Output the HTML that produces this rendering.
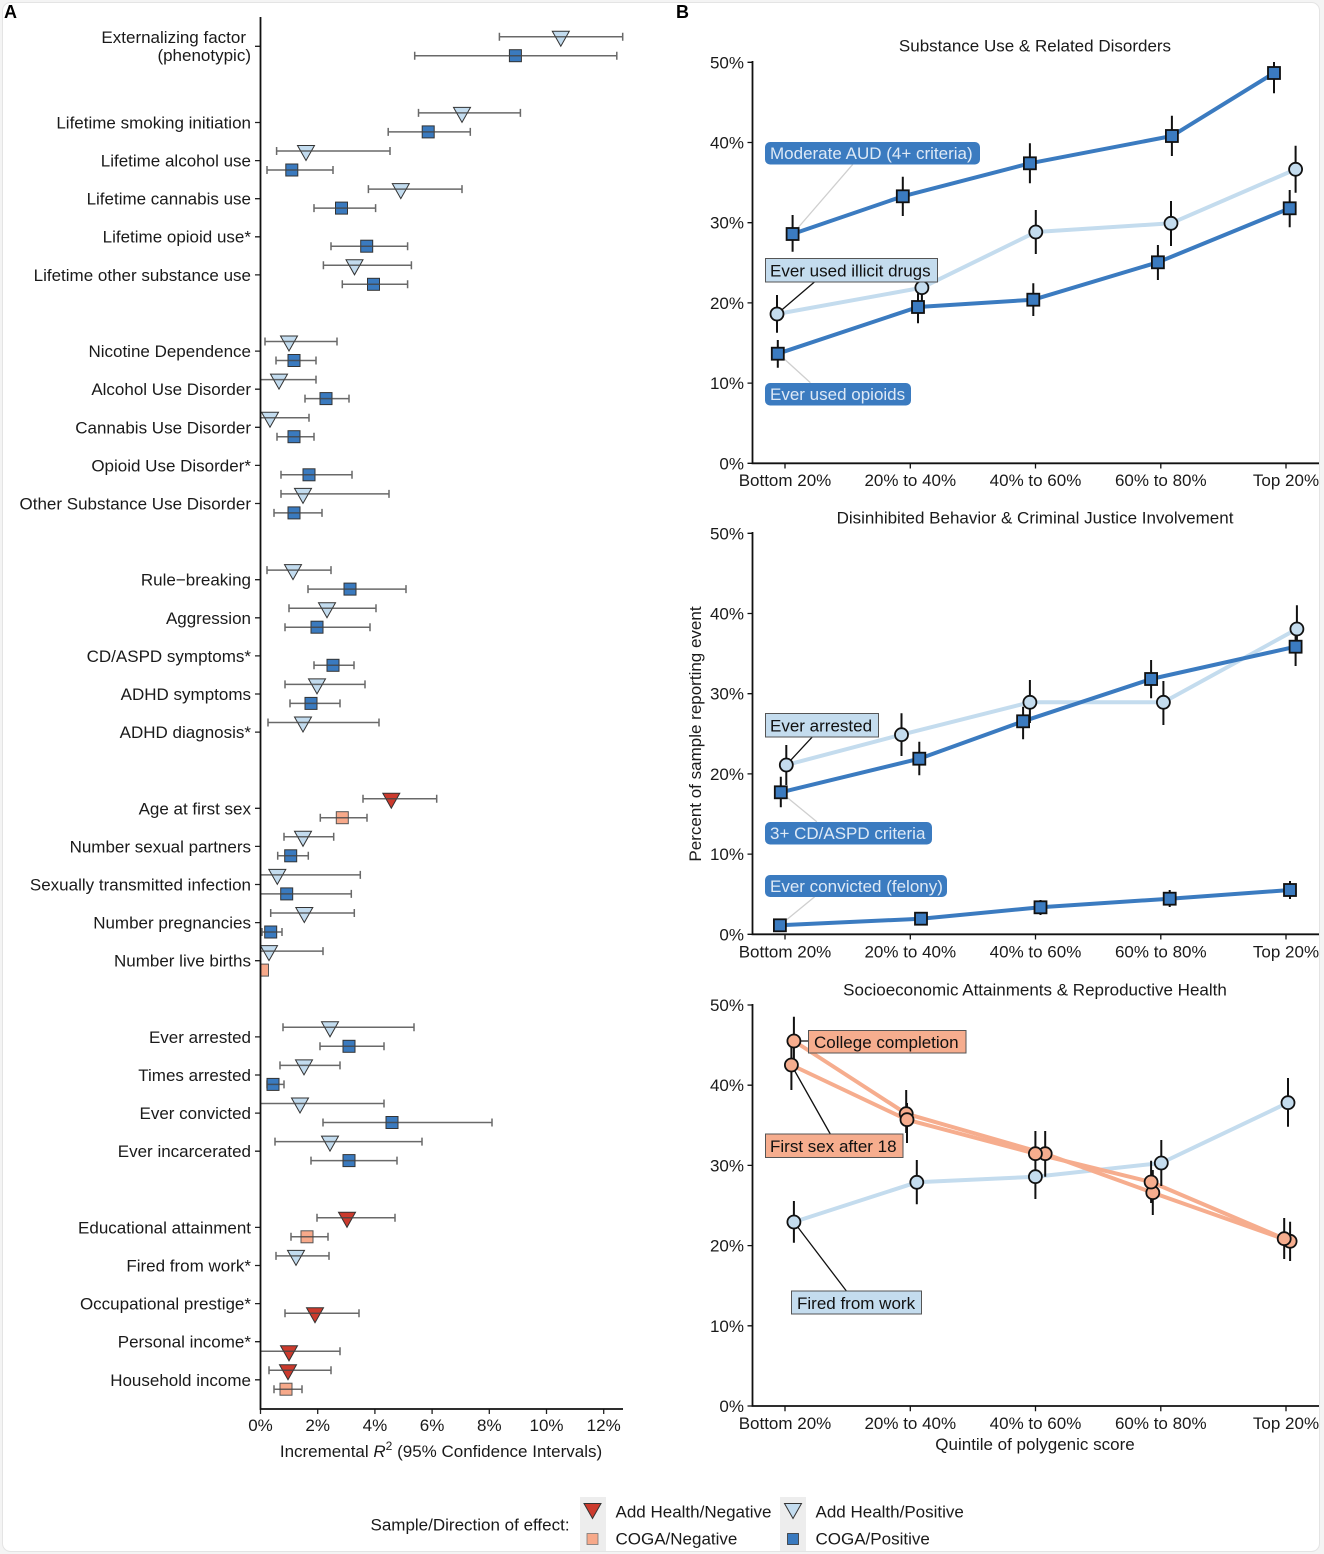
<!DOCTYPE html>
<html><head><meta charset="utf-8"><style>
html,body{margin:0;padding:0;background:#f4f4f4;}
svg{display:block;font-family:"Liberation Sans",Arial,sans-serif;}
</style></head><body>
<svg width="1324" height="1554" viewBox="0 0 1324 1554" xmlns="http://www.w3.org/2000/svg">
<defs>
<path id="tL" d="M-8.5,-5.5H8.5L0,9.5Z" fill="#c3dcef" stroke="#333" stroke-width="1"/>
<path id="tR" d="M-8.5,-5.5H8.5L0,9.5Z" fill="#cc3a2d" stroke="#333" stroke-width="1"/>
<rect id="sD" x="-6" y="-6" width="12" height="12" fill="#3a7abf" stroke="#333" stroke-width="1"/>
<rect id="sS" x="-6" y="-6" width="12" height="12" fill="#f7a98a" stroke="#555" stroke-width="1"/>
<rect id="bS" x="-6" y="-6" width="12" height="12" fill="#3b7bc0" stroke="#111" stroke-width="1.8"/>
<circle id="bCL" r="6.5" fill="#c4dcee" stroke="#111" stroke-width="1.8"/>
<circle id="bCS" r="6.5" fill="#f6ad8e" stroke="#111" stroke-width="1.8"/>
<clipPath id="clipA"><rect x="260.5" y="10" width="370" height="1399"/></clipPath>
</defs>
<rect x="2.5" y="2.5" width="1317" height="1549" rx="8" fill="#fff" stroke="#e4e4e4" stroke-width="1"/>

<text x="4" y="18" font-size="18" font-weight="bold" fill="#000">A</text>
<text x="676" y="18" font-size="18" font-weight="bold" fill="#000">B</text>

<!-- ================= PANEL A ================= -->
<g font-size="17" fill="#1a1a1a" text-anchor="end">
<text x="246" y="43">Externalizing factor</text>
<text x="251" y="61">(phenotypic)</text>
<text x="251" y="128.5">Lifetime smoking initiation</text>
<text x="251" y="166.5">Lifetime alcohol use</text>
<text x="251" y="204.5">Lifetime cannabis use</text>
<text x="251" y="242.5">Lifetime opioid use*</text>
<text x="251" y="281">Lifetime other substance use</text>
<text x="251" y="357">Nicotine Dependence</text>
<text x="251" y="395">Alcohol Use Disorder</text>
<text x="251" y="433.5">Cannabis Use Disorder</text>
<text x="251" y="471.5">Opioid Use Disorder*</text>
<text x="251" y="509.5">Other Substance Use Disorder</text>
<text x="251" y="585.5">Rule−breaking</text>
<text x="251" y="624">Aggression</text>
<text x="251" y="662">CD/ASPD symptoms*</text>
<text x="251" y="700">ADHD symptoms</text>
<text x="251" y="738">ADHD diagnosis*</text>
<text x="251" y="814.5">Age at first sex</text>
<text x="251" y="852.5">Number sexual partners</text>
<text x="251" y="890.5">Sexually transmitted infection</text>
<text x="251" y="928.5">Number pregnancies</text>
<text x="251" y="966.5">Number live births</text>
<text x="251" y="1043">Ever arrested</text>
<text x="251" y="1081">Times arrested</text>
<text x="251" y="1119">Ever convicted</text>
<text x="251" y="1157">Ever incarcerated</text>
<text x="251" y="1233.5">Educational attainment</text>
<text x="251" y="1271.5">Fired from work*</text>
<text x="251" y="1309.5">Occupational prestige*</text>
<text x="251" y="1347.5">Personal income*</text>
<text x="251" y="1386">Household income</text>
</g>
<!-- y ticks -->
<g stroke="#222" stroke-width="1.3">
<path d="M255,46.3H260 M255,122.5H260 M255,160.6H260 M255,198.7H260 M255,236.8H260 M255,274.9H260 M255,351.1H260 M255,389.2H260 M255,427.3H260 M255,465.4H260 M255,503.5H260 M255,579.7H260 M255,617.8H260 M255,655.9H260 M255,694H260 M255,732.1H260 M255,808.3H260 M255,846.4H260 M255,884.5H260 M255,922.6H260 M255,960.7H260 M255,1036.9H260 M255,1075H260 M255,1113.1H260 M255,1151.2H260 M255,1227.4H260 M255,1265.5H260 M255,1303.6H260 M255,1341.7H260 M255,1379.8H260"/>
<path d="M260.5,1409V1414 M317.7,1409V1414 M374.9,1409V1414 M432.1,1409V1414 M489.3,1409V1414 M546.5,1409V1414 M603.7,1409V1414"/>
</g>
<g font-size="17" fill="#1a1a1a" text-anchor="middle">
<text x="260.5" y="1431">0%</text>
<text x="317.7" y="1431">2%</text>
<text x="374.9" y="1431">4%</text>
<text x="432.1" y="1431">6%</text>
<text x="489.3" y="1431">8%</text>
<text x="546.5" y="1431">10%</text>
<text x="603.7" y="1431">12%</text>
<text x="441" y="1457">Incremental <tspan font-style="italic">R</tspan><tspan dy="-7" font-size="12">2</tspan><tspan dy="7"> (95% Confidence Intervals)</tspan></text>
</g>

<g clip-path="url(#clipA)">
<!-- markers -->
<use href="#tL" x="560.8" y="36.7"/><use href="#sD" x="515.4" y="55.7"/>
<use href="#tL" x="462" y="112.9"/><use href="#sD" x="428.2" y="131.9"/>
<use href="#tL" x="306" y="151"/><use href="#sD" x="291.8" y="170"/>
<use href="#tL" x="400.8" y="189.1"/><use href="#sD" x="341.5" y="208.1"/>
<use href="#sD" x="366.7" y="246.2"/>
<use href="#tL" x="354.5" y="265.3"/><use href="#sD" x="373.5" y="284.3"/>
<use href="#tL" x="289" y="341.5"/><use href="#sD" x="294" y="360.5"/>
<use href="#tL" x="279" y="379.6"/><use href="#sD" x="326" y="398.6"/>
<use href="#tL" x="270" y="417.7"/><use href="#sD" x="294" y="436.7"/>
<use href="#sD" x="309" y="474.8"/>
<use href="#tL" x="303" y="493.9"/><use href="#sD" x="294" y="512.9"/>
<use href="#tL" x="293" y="570.1"/><use href="#sD" x="350" y="589.1"/>
<use href="#tL" x="327" y="608.2"/><use href="#sD" x="317" y="627.2"/>
<use href="#sD" x="333" y="665.3"/>
<use href="#tL" x="317" y="684.4"/><use href="#sD" x="311" y="703.4"/>
<use href="#tL" x="303" y="722.5"/>
<use href="#tR" x="391.3" y="798.7"/><use href="#sS" x="342.3" y="817.7"/>
<use href="#tL" x="303" y="836.8"/><use href="#sD" x="290.7" y="855.8"/>
<use href="#tL" x="277.3" y="874.9"/><use href="#sD" x="286.7" y="893.9"/>
<use href="#tL" x="304.3" y="913"/><use href="#sD" x="270.7" y="932"/>
<use href="#tL" x="269" y="951.1"/><use href="#sS" x="262.5" y="970.1"/>
<use href="#tL" x="330" y="1027.3"/><use href="#sD" x="349" y="1046.3"/>
<use href="#tL" x="304" y="1065.4"/><use href="#sD" x="273" y="1084.4"/>
<use href="#tL" x="300" y="1103.5"/><use href="#sD" x="392" y="1122.5"/>
<use href="#tL" x="330" y="1141.6"/><use href="#sD" x="349" y="1160.6"/>
<use href="#tR" x="347" y="1217.8"/><use href="#sS" x="307" y="1236.8"/>
<use href="#tL" x="296" y="1255.9"/>
<use href="#tR" x="315" y="1313.2"/>
<use href="#tR" x="289" y="1351.3"/>
<use href="#tR" x="288" y="1370.2"/><use href="#sS" x="286" y="1389.2"/>
<!-- error bars -->
<path fill="none" stroke="#444" stroke-opacity="0.8" stroke-width="1.5" d="
M499.4,36.7H622.7M499.4,32.7V40.7M622.7,32.7V40.7
M414.7,55.7H616.8M414.7,51.7V59.7M616.8,51.7V59.7
M418.5,112.9H520.4M418.5,108.9V116.9M520.4,108.9V116.9
M388.2,131.9H470.3M388.2,127.9V135.9M470.3,127.9V135.9
M276.6,151H390M276.6,147V155M390,147V155
M267,170H333M267,166V174M333,166V174
M368.4,189.1H462M368.4,185.1V193.1M462,185.1V193.1
M314,208.1H375.6M314,204.1V212.1M375.6,204.1V212.1
M331,246.2H407.6M331,242.2V250.2M407.6,242.2V250.2
M323.4,265.3H411.4M323.4,261.3V269.3M411.4,261.3V269.3
M342.3,284.3H407.6M342.3,280.3V288.3M407.6,280.3V288.3
M265,341.5H337M265,337.5V345.5M337,337.5V345.5
M276,360.5H316M276,356.5V364.5M316,356.5V364.5
M259,379.6H316M316,375.6V383.6
M305,398.6H349M305,394.6V402.6M349,394.6V402.6
M259,417.7H309M309,413.7V421.7
M277,436.7H314M277,432.7V440.7M314,432.7V440.7
M281,474.8H352M281,470.8V478.8M352,470.8V478.8
M281,493.9H389M281,489.9V497.9M389,489.9V497.9
M274,512.9H322M274,508.9V516.9M322,508.9V516.9
M267,570.1H331M267,566.1V574.1M331,566.1V574.1
M308,589.1H406M308,585.1V593.1M406,585.1V593.1
M289,608.2H376M289,604.2V612.2M376,604.2V612.2
M285,627.2H370M285,623.2V631.2M370,623.2V631.2
M314,665.3H354M314,661.3V669.3M354,661.3V669.3
M285,684.4H365M285,680.4V688.4M365,680.4V688.4
M290,703.4H340M290,699.4V707.4M340,699.4V707.4
M268,722.5H379M268,718.5V726.5M379,718.5V726.5
M363,798.7H436.7M363,794.7V802.7M436.7,794.7V802.7
M320.3,817.7H367M320.3,813.7V821.7M367,813.7V821.7
M284,836.8H333.7M284,832.8V840.8M333.7,832.8V840.8
M277.7,855.8H308.3M277.7,851.8V859.8M308.3,851.8V859.8
M259,874.9H360.3M360.3,870.9V878.9
M259,893.9H351.3M351.3,889.9V897.9
M270.7,913H354.3M270.7,909V917M354.3,909V917
M262,932H282M262,928V936M282,928V936
M259,951.1H323M323,947.1V955.1
M283,1027.3H414M283,1023.3V1031.3M414,1023.3V1031.3
M320,1046.3H384M320,1042.3V1050.3M384,1042.3V1050.3
M280,1065.4H340M280,1061.4V1069.4M340,1061.4V1069.4
M267,1084.4H284M267,1080.4V1088.4M284,1080.4V1088.4
M259,1103.5H384M384,1099.5V1107.5
M323,1122.5H492M323,1118.5V1126.5M492,1118.5V1126.5
M275,1141.6H422M275,1137.6V1145.6M422,1137.6V1145.6
M311,1160.6H397M311,1156.6V1164.6M397,1156.6V1164.6
M317,1217.8H395M317,1213.8V1221.8M395,1213.8V1221.8
M291,1236.8H328M291,1232.8V1240.8M328,1232.8V1240.8
M276,1255.9H329M276,1251.9V1259.9M329,1251.9V1259.9
M285,1313.2H359M285,1309.2V1317.2M359,1309.2V1317.2
M259,1351.3H340M340,1347.3V1355.3
M269,1370.2H331M269,1366.2V1374.2M331,1366.2V1374.2
M274,1389.2H302M274,1385.2V1393.2M302,1385.2V1393.2"/>
</g>
<!-- axes A -->
<path d="M260.5,17V1409H623" fill="none" stroke="#111" stroke-width="1.8"/>

<!-- ================= PANEL B ================= -->
<g font-size="17" fill="#1a1a1a" text-anchor="middle">
<text x="1035" y="51.5">Substance Use &amp; Related Disorders</text>
<text x="1035" y="523.5">Disinhibited Behavior &amp; Criminal Justice Involvement</text>
<text x="1035" y="995.5">Socioeconomic Attainments &amp; Reproductive Health</text>
<text x="1035" y="1450">Quintile of polygenic score</text>
<text transform="translate(701,734) rotate(-90)">Percent of sample reporting event</text>
</g>
<!-- y tick labels -->
<g font-size="17" fill="#1a1a1a" text-anchor="end">
<text x="744" y="469.3">0%</text><text x="744" y="389.1">10%</text><text x="744" y="308.9">20%</text><text x="744" y="228.7">30%</text><text x="744" y="148.5">40%</text><text x="744" y="68.3">50%</text>
<text x="744" y="940.3">0%</text><text x="744" y="860.1">10%</text><text x="744" y="779.9">20%</text><text x="744" y="699.7">30%</text><text x="744" y="619.5">40%</text><text x="744" y="539.3">50%</text>
<text x="744" y="1412">0%</text><text x="744" y="1331.8">10%</text><text x="744" y="1251.6">20%</text><text x="744" y="1171.4">30%</text><text x="744" y="1091.2">40%</text><text x="744" y="1011">50%</text>
</g>
<g font-size="17" fill="#1a1a1a" text-anchor="middle">
<text x="785" y="486">Bottom 20%</text><text x="910.3" y="486">20% to 40%</text><text x="1035.5" y="486">40% to 60%</text><text x="1160.8" y="486">60% to 80%</text><text x="1286" y="486">Top 20%</text>
<text x="785" y="957.5">Bottom 20%</text><text x="910.3" y="957.5">20% to 40%</text><text x="1035.5" y="957.5">40% to 60%</text><text x="1160.8" y="957.5">60% to 80%</text><text x="1286" y="957.5">Top 20%</text>
<text x="785" y="1429">Bottom 20%</text><text x="910.3" y="1429">20% to 40%</text><text x="1035.5" y="1429">40% to 60%</text><text x="1160.8" y="1429">60% to 80%</text><text x="1286" y="1429">Top 20%</text>
</g>
<g stroke="#111" stroke-width="1.3">
<path d="M747.5,463.3H752.5M747.5,383.1H752.5M747.5,302.9H752.5M747.5,222.7H752.5M747.5,142.5H752.5M747.5,62.3H752.5"/>
<path d="M747.5,934.3H752.5M747.5,854.1H752.5M747.5,773.9H752.5M747.5,693.7H752.5M747.5,613.5H752.5M747.5,533.3H752.5"/>
<path d="M747.5,1406H752.5M747.5,1325.8H752.5M747.5,1245.6H752.5M747.5,1165.4H752.5M747.5,1085.2H752.5M747.5,1005H752.5"/>
<path d="M785,463.3V468.5M910.3,463.3V468.5M1035.5,463.3V468.5M1160.8,463.3V468.5M1286,463.3V468.5"/>
<path d="M785,934.3V939.5M910.3,934.3V939.5M1035.5,934.3V939.5M1160.8,934.3V939.5M1286,934.3V939.5"/>
<path d="M785,1406V1411.2M910.3,1406V1411.2M1035.5,1406V1411.2M1160.8,1406V1411.2M1286,1406V1411.2"/>
</g>
<g fill="none" stroke="#111" stroke-width="1.8">
<path d="M752.5,61V463.3H1319"/>
<path d="M752.5,532V934.3H1319"/>
<path d="M752.5,1004V1406H1319"/>
</g>

<!-- Panel B1 lines -->
<g fill="none" stroke-width="4" stroke-linejoin="round">
<path stroke="#c4dcee" d="M777,314 L921.9,287.7 L1035.8,232 L1171,223.3 L1295.6,169.3"/>
<path stroke="#3b7bc0" d="M792.6,234 L902.8,196.3 L1029.9,163.3 L1171.9,136 L1274,73"/>
<path stroke="#3b7bc0" d="M777.8,353.7 L918,307 L1033.3,299.7 L1157.9,262.3 L1289.7,208.3"/>
<!-- B2 -->
<path stroke="#c4dcee" d="M786.3,765 L901.5,734.7 L1029.9,702.3 L1163.4,702.3 L1296.9,629"/>
<path stroke="#3b7bc0" d="M780.8,792.3 L919.3,758.7 L1023.1,721.3 L1151.1,679 L1295.6,646.7"/>
<path stroke="#3b7bc0" d="M779.9,925.3 L921,918.7 L1040.5,907.3 L1169.7,898.7 L1290,890"/>
<!-- B3 -->
<path stroke="#c4dcee" d="M793.9,1222 L916.8,1182.3 L1035.4,1176.7 L1161.3,1163 L1288,1102.7"/>
<path stroke="#f6ad8e" d="M793.9,1041 L906.2,1113.7 L1045.2,1153.7 L1152.8,1192.7 L1290.1,1241.3"/>
<path stroke="#f6ad8e" d="M791.4,1065 L907,1119.7 L1035.4,1153.7 L1151.1,1182 L1284.2,1238.7"/>
</g>
<!-- error bars B -->
<path fill="none" stroke="#111" stroke-width="2" d="
M792.6,215V251.7M902.8,176.7V216M1029.9,143.3V183.3M1171.9,115.7V156M1274,62V93.3
M777,295V332.7M921.9,276V302M1035.8,210V254M1171,201V246M1295.6,145.7V192.7
M777.8,340V367.7M918,293.3V323.3M1033.3,283.3V316M1157.9,245V280M1289.7,190V227.3
M786.3,745V785M901.5,713.3V756M1029.9,680V723M1163.4,681V725M1296.9,605.3V651.7
M780.8,776.7V807.3M919.3,741.7V775.3M1023.1,706.7V739.3M1151.1,660V698.3M1295.6,631.7V666
M779.9,920V930M921,913V924M1040.5,900V915M1169.7,890V907M1290,881V899
M793.9,1016.7V1065M791.4,1040V1090M906.2,1090V1133M907,1103V1143M1035.4,1131V1170M1045.2,1131V1176.7M1151.1,1160.7V1203M1152.8,1170V1215M1284.2,1218V1259M1290.1,1221.7V1261
M793.9,1201V1242.7M916.8,1160V1204.3M1035.4,1154V1199M1161.3,1140V1186M1288,1078V1126.7"/>

<!-- leader lines -->
<g fill="none" stroke-width="1.3">
<path stroke="#cfcfcf" d="M852.8,164.3L792.6,234 M810.4,382.7L779.9,355 M816.8,821.7L780.8,792.3 M814.7,896.7L779.9,925.3"/>
<path stroke="#111" d="M814.7,281.7L777,314 M812.5,736.7L786.3,765 M793.9,1041H808.5 M830.3,1134L791.4,1065 M846.4,1291L793.9,1222"/>
</g>

<!-- points B -->
<use href="#bCL" x="777" y="314"/><use href="#bCL" x="921.9" y="287.7"/><use href="#bCL" x="1035.8" y="232"/><use href="#bCL" x="1171" y="223.3"/><use href="#bCL" x="1295.6" y="169.3"/>
<use href="#bS" x="792.6" y="234"/><use href="#bS" x="902.8" y="196.3"/><use href="#bS" x="1029.9" y="163.3"/><use href="#bS" x="1171.9" y="136"/><use href="#bS" x="1274" y="73"/>
<use href="#bS" x="777.8" y="353.7"/><use href="#bS" x="918" y="307"/><use href="#bS" x="1033.3" y="299.7"/><use href="#bS" x="1157.9" y="262.3"/><use href="#bS" x="1289.7" y="208.3"/>
<use href="#bCL" x="786.3" y="765"/><use href="#bCL" x="901.5" y="734.7"/><use href="#bCL" x="1029.9" y="702.3"/><use href="#bCL" x="1163.4" y="702.3"/><use href="#bCL" x="1296.9" y="629"/>
<use href="#bS" x="780.8" y="792.3"/><use href="#bS" x="919.3" y="758.7"/><use href="#bS" x="1023.1" y="721.3"/><use href="#bS" x="1151.1" y="679"/><use href="#bS" x="1295.6" y="646.7"/>
<use href="#bS" x="779.9" y="925.3"/><use href="#bS" x="921" y="918.7"/><use href="#bS" x="1040.5" y="907.3"/><use href="#bS" x="1169.7" y="898.7"/><use href="#bS" x="1290" y="890"/>
<use href="#bCL" x="793.9" y="1222"/><use href="#bCL" x="916.8" y="1182.3"/><use href="#bCL" x="1035.4" y="1176.7"/><use href="#bCL" x="1161.3" y="1163"/><use href="#bCL" x="1288" y="1102.7"/>
<use href="#bCS" x="793.9" y="1041"/><use href="#bCS" x="906.2" y="1113.7"/><use href="#bCS" x="1045.2" y="1153.7"/><use href="#bCS" x="1152.8" y="1192.7"/><use href="#bCS" x="1290.1" y="1241.3"/>
<use href="#bCS" x="791.4" y="1065"/><use href="#bCS" x="907" y="1119.7"/><use href="#bCS" x="1035.4" y="1153.7"/><use href="#bCS" x="1151.1" y="1182"/><use href="#bCS" x="1284.2" y="1238.7"/>

<!-- labels B -->
<g font-size="17">
<rect x="765" y="142" width="215" height="22.5" rx="5" fill="#3b7bc0"/>
<text x="770" y="159" fill="#dde9f6">Moderate AUD (4+ criteria)</text>
<rect x="765.5" y="258.5" width="172" height="23.5" fill="#c4dcee" stroke="#555" stroke-width="1"/>
<text x="770" y="276.5" fill="#111">Ever used illicit drugs</text>
<rect x="765" y="383" width="146" height="22.5" rx="5" fill="#3b7bc0"/>
<text x="770" y="400" fill="#dde9f6">Ever used opioids</text>

<rect x="765.5" y="713.5" width="113" height="23.5" fill="#c4dcee" stroke="#555" stroke-width="1"/>
<text x="770" y="731.5" fill="#111">Ever arrested</text>
<rect x="765" y="822" width="167" height="22.5" rx="5" fill="#3b7bc0"/>
<text x="770" y="839" fill="#dde9f6">3+ CD/ASPD criteria</text>
<rect x="765" y="875" width="182" height="22" rx="5" fill="#3b7bc0"/>
<text x="770" y="892" fill="#dde9f6">Ever convicted (felony)</text>

<rect x="808.5" y="1030.5" width="157.5" height="22.5" fill="#f6ad8e" stroke="#555" stroke-width="1"/>
<text x="814" y="1048" fill="#111">College completion</text>
<rect x="765.5" y="1134" width="137.5" height="23.5" fill="#f6ad8e" stroke="#555" stroke-width="1"/>
<text x="770" y="1152" fill="#111">First sex after 18</text>
<rect x="791.5" y="1291" width="130" height="23" fill="#c4dcee" stroke="#555" stroke-width="1"/>
<text x="797" y="1309" fill="#111">Fired from work</text>
</g>

<!-- ================= LEGEND ================= -->
<rect x="580" y="1497" width="26" height="54" fill="#ededed"/>
<rect x="780" y="1497" width="26" height="54" fill="#ededed"/>
<use href="#tR" x="592.5" y="1509"/>
<rect x="587" y="1533.5" width="11" height="11" fill="#f7a98a" stroke="#777" stroke-width="0.8"/>
<use href="#tL" x="793" y="1509"/>
<rect x="787.5" y="1533.5" width="11" height="11" fill="#3a7abf" stroke="#333" stroke-width="0.8"/>
<g font-size="17" fill="#1a1a1a">
<text x="370.5" y="1530.5">Sample/Direction of effect:</text>
<text x="615.5" y="1517.5">Add Health/Negative</text>
<text x="615.5" y="1544.5">COGA/Negative</text>
<text x="815.5" y="1517.5">Add Health/Positive</text>
<text x="815.5" y="1544.5">COGA/Positive</text>
</g>
</svg>
</body></html>
